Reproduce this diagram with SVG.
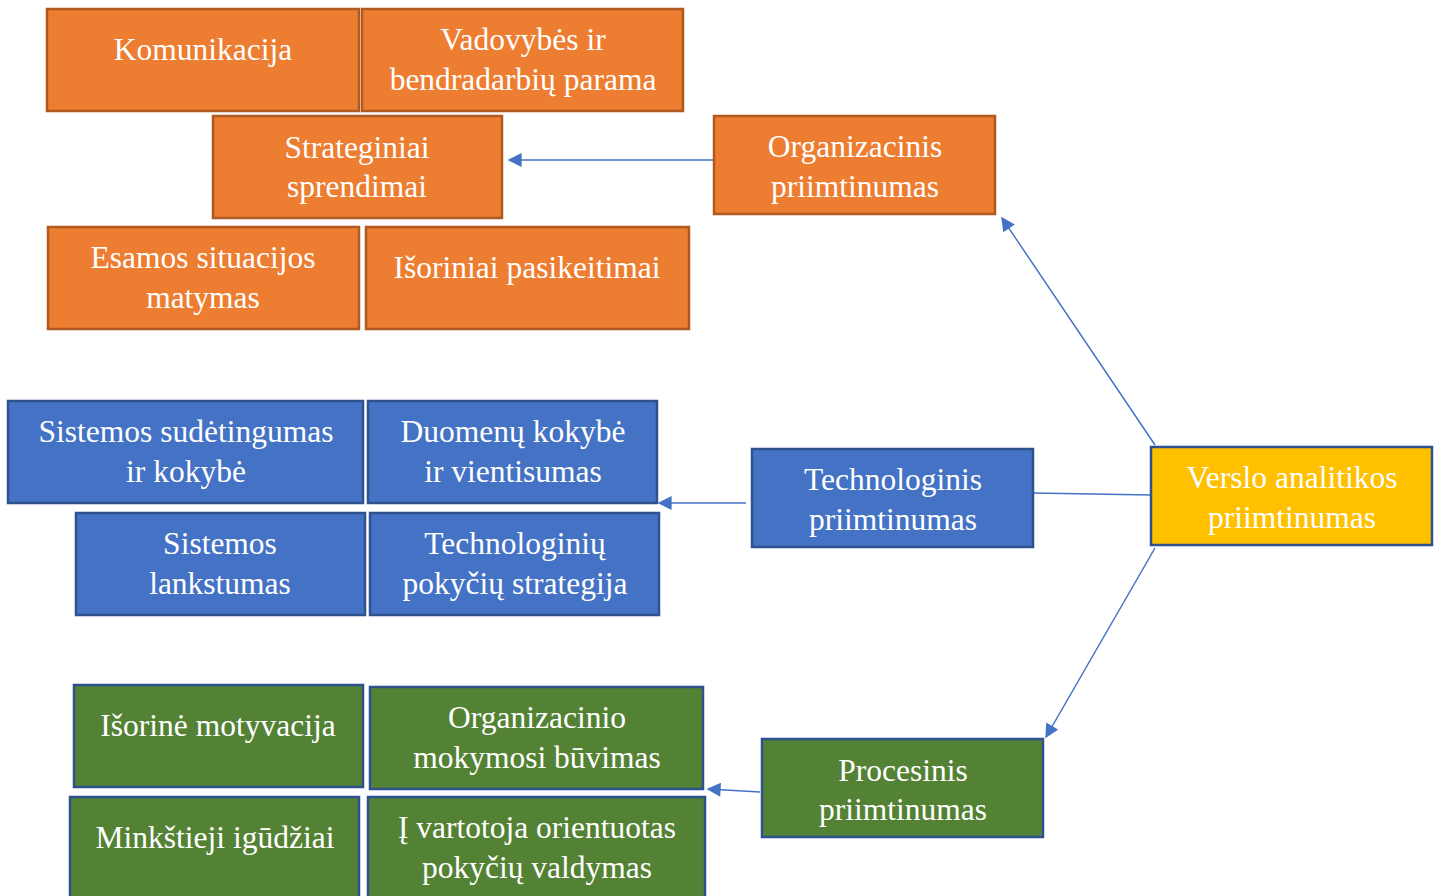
<svg xmlns="http://www.w3.org/2000/svg" width="1434" height="896" viewBox="0 0 1434 896">
<style>
.o{fill:#ED7D31;stroke:#AE5A21;stroke-width:2.5}
.b{fill:#4472C4;stroke:#2F528F;stroke-width:2.5}
.g{fill:#548235;stroke:#2F528F;stroke-width:2.5}
.y{fill:#FFC000;stroke:#2F528F;stroke-width:2.5}
text{font-family:"Liberation Serif","Times New Roman",serif;font-size:31.5px;fill:#fff;text-anchor:middle}
.c{stroke:#4472C4;stroke-width:1.5;fill:none}
</style>
<defs>
<marker id="ah2" viewBox="0 0 10 10" refX="9" refY="5" markerWidth="15" markerHeight="14" markerUnits="userSpaceOnUse" orient="auto">
<path d="M0,0 L10,5 L0,10 z" fill="#4472C4"/>
</marker>
</defs>
<rect width="1434" height="896" fill="#fff"/>
<g id="connectors">
<line class="c" x1="714" y1="160" x2="509" y2="160" marker-end="url(#ah2)"/>
<line class="c" x1="746" y1="503" x2="659" y2="503" marker-end="url(#ah2)"/>
<line class="c" x1="1033" y1="493" x2="1151" y2="495"/>
<line class="c" x1="1155" y1="445" x2="1002" y2="218" marker-end="url(#ah2)"/>
<line class="c" x1="1155" y1="548" x2="1046" y2="737" marker-end="url(#ah2)"/>
<line class="c" x1="760" y1="792" x2="708" y2="789" marker-end="url(#ah2)"/>
</g>
<g id="komunikacija"><rect class="o" x="47" y="9" width="312" height="102"/><text x="203" y="60">Komunikacija</text></g>
<g id="vadovybes"><rect class="o" x="362" y="9" width="321" height="102"/><text x="523" y="50">Vadovybės ir</text><text x="523" y="90">bendradarbių parama</text></g>
<g id="strateginiai"><rect class="o" x="213" y="116" width="289" height="102"/><text x="357" y="158">Strateginiai</text><text x="357" y="197">sprendimai</text></g>
<g id="esamos"><rect class="o" x="48" y="227" width="311" height="102"/><text x="203" y="268">Esamos situacijos</text><text x="203" y="308">matymas</text></g>
<g id="isoriniai"><rect class="o" x="366" y="227" width="323" height="102"/><text x="527" y="278">Išoriniai pasikeitimai</text></g>
<g id="organizacinis"><rect class="o" x="714" y="116" width="281" height="98"/><text x="855" y="157">Organizacinis</text><text x="855" y="197">priimtinumas</text></g>
<g id="sistemos-sudetingumas"><rect class="b" x="8" y="401" width="355" height="102"/><text x="186" y="442">Sistemos sudėtingumas</text><text x="186" y="482">ir kokybė</text></g>
<g id="duomenu"><rect class="b" x="368" y="401" width="289" height="102"/><text x="513" y="442">Duomenų kokybė</text><text x="513" y="482">ir vientisumas</text></g>
<g id="sistemos-lankstumas"><rect class="b" x="76" y="513" width="289" height="102"/><text x="220" y="554">Sistemos</text><text x="220" y="594">lankstumas</text></g>
<g id="technologiniu"><rect class="b" x="370" y="513" width="289" height="102"/><text x="515" y="554">Technologinių</text><text x="515" y="594">pokyčių strategija</text></g>
<g id="technologinis"><rect class="b" x="752" y="449" width="281" height="98"/><text x="893" y="490">Technologinis</text><text x="893" y="530">priimtinumas</text></g>
<g id="verslo"><rect class="y" x="1151" y="447" width="281" height="98"/><text x="1292" y="488">Verslo analitikos</text><text x="1292" y="528">priimtinumas</text></g>
<g id="isorine"><rect class="g" x="74" y="685" width="289" height="102"/><text x="218" y="736">Išorinė motyvacija</text></g>
<g id="organizacinio"><rect class="g" x="370" y="687" width="333" height="102"/><text x="537" y="728">Organizacinio</text><text x="537" y="768">mokymosi būvimas</text></g>
<g id="minkstieji"><rect class="g" x="70" y="797" width="289" height="102"/><text x="215" y="848">Minkštieji igūdžiai</text></g>
<g id="vartotoja"><rect class="g" x="368" y="797" width="337" height="102"/><text x="537" y="838">Į vartotoja orientuotas</text><text x="537" y="878">pokyčių valdymas</text></g>
<g id="procesinis"><rect class="g" x="762" y="739" width="281" height="98"/><text x="903" y="781">Procesinis</text><text x="903" y="820">priimtinumas</text></g>
</svg>
